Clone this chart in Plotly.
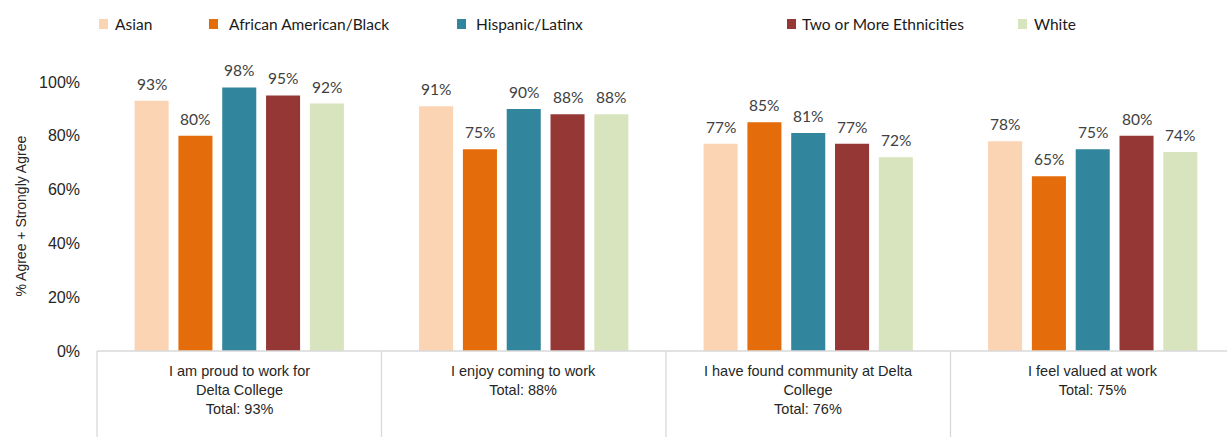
import plotly.graph_objects as go

categories = [
    "I am proud to work for<br>Delta College<br>Total: 93%",
    "I enjoy coming to work<br>Total: 88%",
    "I have found community at Delta<br>College<br>Total: 76%",
    "I feel valued at work<br>Total: 75%",
]
series_names = ["Asian", "African American/Black", "Hispanic/Latinx",
                "Two or More Ethnicities", "White"]
asian = [93, 91, 77, 78]
african_american = [80, 75, 85, 65]
hispanic = [98, 90, 81, 75]
two_or_more = [95, 88, 77, 80]
white = [92, 88, 72, 74]
series_values = [asian, african_american, hispanic, two_or_more, white]
colors = ["#FBD4B4", "#E46C0A", "#31859C", "#953735", "#D7E4BD"]
y_ticks = [0, 20, 40, 60, 80, 100]
y_tick_labels = [f"{t}%" for t in y_ticks]

W, H = 1227, 437
L, R, T, B = 97, 0, 82, 86
plot_w = W - L - R
plot_h = H - T - B
x0, x1 = -0.5, 3.472
bargap, bargroupgap = 0.23, 0.223
label_font = "Lato, 'Open Sans', sans-serif"
arial = "'Liberation Sans', Arial, sans-serif"

fig = go.Figure()
idx = list(range(len(categories)))
for name, vals, col in zip(series_names, series_values, colors):
    fig.add_trace(go.Bar(x=idx, y=vals, name=name, marker=dict(color=col, line=dict(width=0)),
                         showlegend=False, hoverinfo="y"))

annotations = []
shapes = []
n = len(series_names)
pitch = (1 - bargap) / n
for j, vals in enumerate(series_values):
    for i, v in enumerate(vals):
        annotations.append(dict(
            x=i + (j - (n - 1) / 2) * pitch, y=v, xref="x", yref="y",
            text=f"{v}%", showarrow=False, yanchor="bottom", xanchor="center",
            yshift=6, font=dict(family=label_font, size=15.5, color="#404040")))

# category labels
for i, c in enumerate(categories):
    annotations.append(dict(
        x=i, y=0, xref="x", yref="y", text=c, showarrow=False,
        yanchor="top", xanchor="center", yshift=-10,
        font=dict(family=arial, size=14.5, color="#262626")))

def px_x(units):
    return (units - x0) / (x1 - x0)

# separators
for k in range(len(categories)):
    xp = px_x(k - 0.5)
    shapes.append(dict(type="line", xref="paper", yref="paper", x0=xp, x1=xp,
                       y0=0, y1=-(B + 5) / plot_h, line=dict(color="#D9D9D9", width=1.3)))
shapes.append(dict(type="line", xref="paper", yref="paper", x0=0, x1=1.01,
                   y0=0, y1=0, line=dict(color="#D9D9D9", width=1.3)))

# legend (manual)
leg_sq = [99, 209, 457, 787, 1018]
leg_tx = [113, 227, 474, 800, 1032]
for name, col, sx, tx in zip(series_names, colors, leg_sq, leg_tx):
    shapes.append(dict(type="rect", xref="paper", yref="paper",
                       x0=(sx - L) / plot_w, x1=(sx + 9 - L) / plot_w,
                       y0=(H - B - 29) / plot_h, y1=(H - B - 19) / plot_h,
                       fillcolor=col, line=dict(width=0)))
    annotations.append(dict(x=(tx - L) / plot_w, y=(H - B - 24) / plot_h, xref="paper", yref="paper",
                            text=name, showarrow=False, xanchor="left", yanchor="middle",
                            font=dict(family=label_font, size=15.5, color="#1a1a1a")))

# y title
annotations.append(dict(x=(20 - L) / plot_w, y=0.5, xref="paper", yref="paper",
                        text="% Agree + Strongly Agree", textangle=-90, showarrow=False,
                        xanchor="center", yanchor="middle",
                        font=dict(family=arial, size=14, color="#262626")))

fig.update_layout(
    width=W, height=H, margin=dict(l=L, r=R, t=T, b=B),
    paper_bgcolor="white", plot_bgcolor="white",
    barmode="group", bargap=bargap, bargroupgap=bargroupgap,
    showlegend=False,
    annotations=annotations, shapes=shapes,
    xaxis=dict(range=[x0, x1], showticklabels=False, ticks="", showgrid=False,
               zeroline=False, showline=False, fixedrange=True),
    yaxis=dict(range=[0, 100], tickmode="array", tickvals=y_ticks, ticktext=y_tick_labels,
               showgrid=False, zeroline=False, showline=False, ticks="", ticklabelstandoff=16,
               tickfont=dict(family=arial, size=16, color="#262626"), fixedrange=True),
)
fig.write_html("out.html", config={"displayModeBar": False})
